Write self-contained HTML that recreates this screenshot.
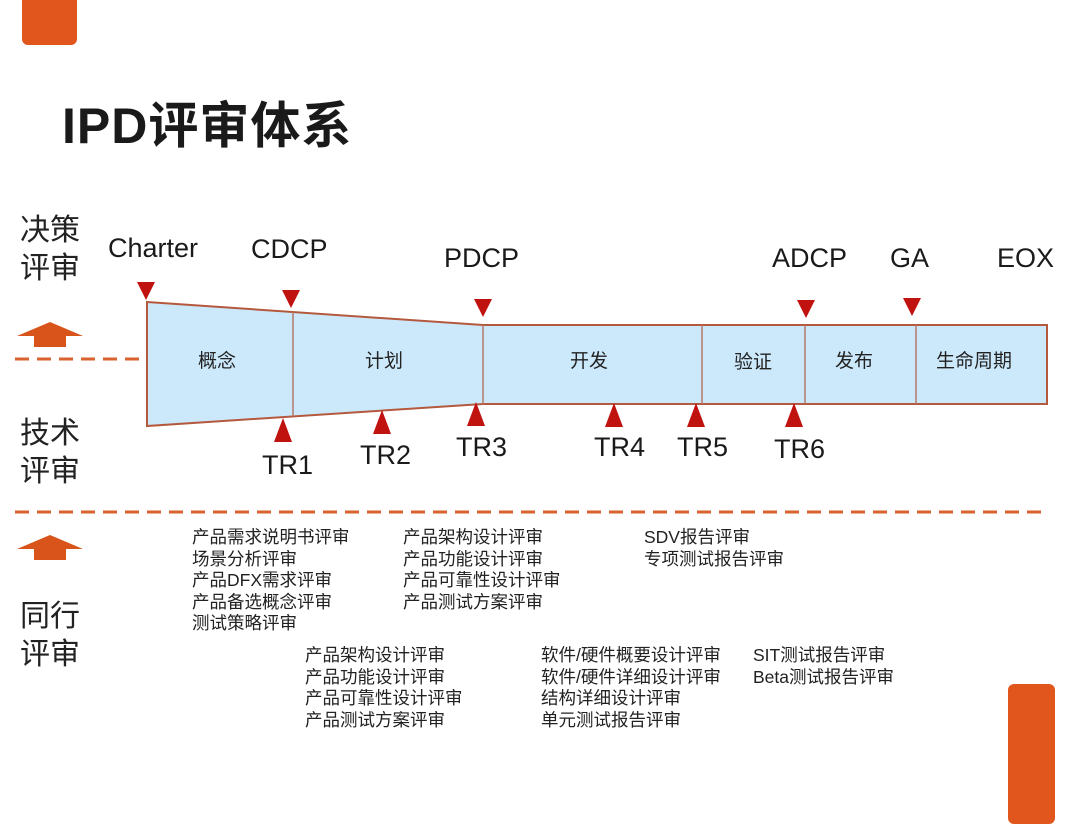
<!DOCTYPE html>
<html><head><meta charset="utf-8"><style>
body{margin:0;width:1080px;height:810px;background:#fff;position:relative;overflow:hidden;font-family:"Liberation Sans","Noto Sans CJK SC",sans-serif;color:#222}
.t{position:absolute;white-space:nowrap}
.lbl{font-size:27px;color:#1a1a1a}
.side{font-size:30px;line-height:38px;color:#222}
.list{font-size:17.5px;line-height:21.6px;color:#222}
.ph{font-size:19px;color:#222}
</style></head><body>
<div style="position:absolute;left:22px;top:-10px;width:55px;height:55px;background:#e0561c;border-radius:6px"></div>
<div style="position:absolute;left:1008px;top:684px;width:47px;height:140px;background:#e0561c;border-radius:6px"></div>
<div class="t" style="left:62px;top:86px;font-size:50px;font-weight:bold;color:#1a1a1a;letter-spacing:1px">IPD评审体系</div>

<svg width="1080" height="810" style="position:absolute;left:0;top:0">
<g stroke="#d9622e" stroke-width="3" stroke-dasharray="14,8">
<line x1="15" y1="359" x2="147" y2="359"/>
<line x1="15" y1="512" x2="1042" y2="512"/>
</g>
<polygon points="34,347 34,336 17,336 50,322 83,336 66,336 66,347" fill="#d9541a"/>
<polygon points="34,560 34,549 17,549 50,535 83,549 66,549 66,560" fill="#d9541a"/>
<polygon points="147,302 483,325 1047,325 1047,404 483,404 147,426" fill="#cce9fb" stroke="#b5593e" stroke-width="2"/>
<g stroke="#b5776a" stroke-width="1.5">
<line x1="293" y1="312" x2="293" y2="416"/>
<line x1="483" y1="325" x2="483" y2="404"/>
<line x1="702" y1="325" x2="702" y2="404"/>
<line x1="805" y1="325" x2="805" y2="404"/>
<line x1="916" y1="325" x2="916" y2="404"/>
</g>
<g fill="#c0120f">
<polygon points="137,282 155,282 146,300"/>
<polygon points="282,290 300,290 291,308"/>
<polygon points="474,299 492,299 483,317"/>
<polygon points="797,300 815,300 806,318"/>
<polygon points="903,298 921,298 912,316"/>
<polygon points="274,442 292,442 283,418"/>
<polygon points="373,434 391,434 382,410"/>
<polygon points="467,426 485,426 476,402"/>
<polygon points="605,427 623,427 614,403"/>
<polygon points="687,427 705,427 696,403"/>
<polygon points="785,427 803,427 794,403"/>
</g>
</svg>

<div class="t side" style="left:20px;top:212px">决策<br>评审</div>
<div class="t side" style="left:20px;top:415px">技术<br>评审</div>
<div class="t side" style="left:20px;top:598px">同行<br>评审</div>

<div class="t lbl" style="left:108px;top:233px">Charter</div>
<div class="t lbl" style="left:251px;top:234px">CDCP</div>
<div class="t lbl" style="left:444px;top:243px">PDCP</div>
<div class="t lbl" style="left:772px;top:243px">ADCP</div>
<div class="t lbl" style="left:890px;top:243px">GA</div>
<div class="t lbl" style="left:997px;top:243px">EOX</div>

<div class="t lbl" style="left:262px;top:450px">TR1</div>
<div class="t lbl" style="left:360px;top:440px">TR2</div>
<div class="t lbl" style="left:456px;top:432px">TR3</div>
<div class="t lbl" style="left:594px;top:432px">TR4</div>
<div class="t lbl" style="left:677px;top:432px">TR5</div>
<div class="t lbl" style="left:774px;top:434px">TR6</div>

<div class="t ph" style="left:198px;top:346px">概念</div>
<div class="t ph" style="left:365px;top:346px">计划</div>
<div class="t ph" style="left:570px;top:346px">开发</div>
<div class="t ph" style="left:734px;top:347px">验证</div>
<div class="t ph" style="left:835px;top:346px">发布</div>
<div class="t ph" style="left:936px;top:346px">生命周期</div>

<div class="t list" style="left:192px;top:527px">产品需求说明书评审<br>场景分析评审<br>产品DFX需求评审<br>产品备选概念评审<br>测试策略评审</div>
<div class="t list" style="left:403px;top:527px">产品架构设计评审<br>产品功能设计评审<br>产品可靠性设计评审<br>产品测试方案评审</div>
<div class="t list" style="left:644px;top:527px">SDV报告评审<br>专项测试报告评审</div>
<div class="t list" style="left:305px;top:645px">产品架构设计评审<br>产品功能设计评审<br>产品可靠性设计评审<br>产品测试方案评审</div>
<div class="t list" style="left:541px;top:645px">软件/硬件概要设计评审<br>软件/硬件详细设计评审<br>结构详细设计评审<br>单元测试报告评审</div>
<div class="t list" style="left:753px;top:645px">SIT测试报告评审<br>Beta测试报告评审</div>
</body></html>
